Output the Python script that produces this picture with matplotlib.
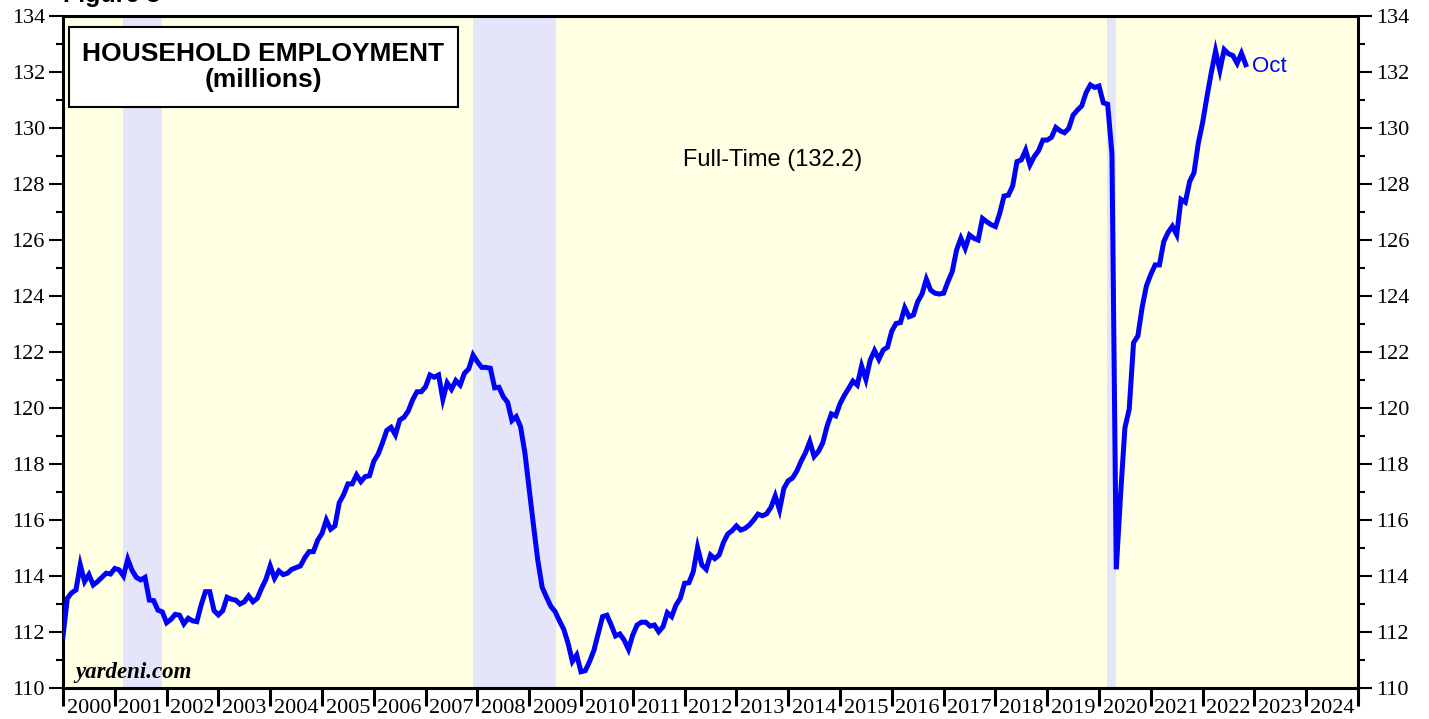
import numpy as np
import matplotlib.pyplot as plt
from matplotlib.patches import Rectangle

# full-time household employment, millions, monthly from Dec 1999 to Oct 2022
fulltime = [
    111.85, 113.20, 113.40, 113.50, 114.40, 113.80, 114.05, 113.68, 113.80, 113.95, 114.10, 114.07,
    114.27, 114.22, 114.00, 114.60, 114.20, 113.95, 113.86, 113.95, 113.14, 113.12, 112.78, 112.72,
    112.33, 112.45, 112.63, 112.60, 112.29, 112.49, 112.40, 112.37, 112.96, 113.44, 113.44, 112.76,
    112.61, 112.76, 113.24, 113.17, 113.14, 113.00, 113.08, 113.29, 113.08, 113.20, 113.56, 113.88,
    114.36, 113.92, 114.18, 114.05, 114.10, 114.24, 114.30, 114.36, 114.65, 114.87, 114.87, 115.28,
    115.52, 116.00, 115.67, 115.79, 116.62, 116.90, 117.29, 117.29, 117.61, 117.37, 117.55, 117.58,
    118.10, 118.35, 118.75, 119.20, 119.31, 119.04, 119.57, 119.67, 119.90, 120.29, 120.58, 120.58,
    120.76, 121.18, 121.10, 121.18, 120.31, 120.90, 120.67, 120.98, 120.82, 121.24, 121.40, 121.89,
    121.65, 121.45, 121.45, 121.42, 120.72, 120.74, 120.40, 120.20, 119.55, 119.69, 119.33, 118.40,
    117.10, 115.80, 114.55, 113.60, 113.25, 112.92, 112.73, 112.40, 112.10, 111.60, 110.95, 111.18,
    110.58, 110.62, 110.95, 111.35, 111.95, 112.55, 112.60, 112.25, 111.86, 111.93, 111.71, 111.38,
    111.90, 112.25, 112.35, 112.35, 112.21, 112.25, 112.01, 112.19, 112.69, 112.55, 112.96, 113.20,
    113.74, 113.76, 114.15, 115.02, 114.39, 114.24, 114.75, 114.62, 114.75, 115.20, 115.50, 115.62,
    115.79, 115.64, 115.70, 115.82, 116.00, 116.21, 116.15, 116.22, 116.45, 116.86, 116.36, 117.13,
    117.40, 117.50, 117.75, 118.10, 118.40, 118.80, 118.27, 118.45, 118.75, 119.35, 119.79, 119.72,
    120.15, 120.45, 120.70, 120.96, 120.82, 121.50, 121.02, 121.71, 122.05, 121.74, 122.07, 122.17,
    122.75, 123.02, 123.05, 123.58, 123.26, 123.32, 123.80, 124.07, 124.60, 124.21, 124.10, 124.07,
    124.10, 124.51, 124.87, 125.64, 126.06, 125.70, 126.18, 126.06, 126.00, 126.77, 126.65, 126.55,
    126.48, 126.95, 127.57, 127.60, 127.93, 128.80, 128.86, 129.21, 128.68, 128.98, 129.19, 129.57,
    129.57, 129.67, 130.02, 129.90, 129.83, 129.99, 130.46, 130.64, 130.79, 131.26, 131.54, 131.45,
    131.50, 130.90, 130.85, 129.08, 114.24, 116.90, 119.29, 119.96, 122.33, 122.57, 123.60, 124.37,
    124.77, 125.11, 125.11, 125.94, 126.27, 126.49, 126.19, 127.45, 127.35, 128.09, 128.40, 129.45,
    130.19, 131.11, 131.97, 132.75, 132.06, 132.80, 132.65, 132.59, 132.31, 132.67, 132.26,
]
start_year = 2000.0      # Dec 1999 value is plotted at the 2000 boundary (month-end)
last_label = 'Oct'
series_label = 'Full-Time (132.2)'
recessions = [(2001.16, 2001.91), (2007.91, 2009.51), (2020.16, 2020.33)]
year_labels = list(range(2000, 2025))

t = start_year + np.arange(len(fulltime)) / 12.0

fig = plt.figure(figsize=(14.29, 7.19), dpi=100)
ax = fig.add_axes([63/1429, 1 - 688/719, (1358 - 63)/1429, (688 - 16)/719])
ax.set_facecolor('#ffffe4')

for a, b in recessions:
    ax.axvspan(a, b, color='#e4e4fa', lw=0, zorder=1)

ax.plot(t, fulltime, color='#0000ff', lw=3.6, solid_joinstyle='miter', zorder=3)

ax.set_xlim(2000, 2025)
ax.set_ylim(110, 134)

# y axis, both sides
ax.set_yticks(np.arange(110, 135, 2))
ax.set_yticks(np.arange(110, 135, 1), minor=True)
ax.tick_params(axis='y', which='major', direction='out', length=10, width=1.5,
               left=True, right=True, labelleft=True, labelright=True,
               labelsize=16, pad=3)
ax.tick_params(axis='y', which='minor', direction='out', length=5, width=1.5,
               left=True, right=True)
for lab in ax.get_yticklabels():
    lab.set_fontfamily('Liberation Serif')

# x axis: long ticks at year boundaries, labels centred in the year
ax.set_xticks(np.arange(2000, 2026, 1))
ax.set_xticklabels([])
ax.set_xticks(np.arange(2000.5, 2025, 1), minor=True)
ax.set_xticklabels([str(y) for y in year_labels], minor=True,
                   fontfamily='Liberation Serif', fontsize=16)
ax.tick_params(axis='x', which='major', direction='out', length=13, width=2.2)
ax.tick_params(axis='x', which='minor', length=0, pad=8)

for s in ax.spines.values():
    s.set_linewidth(2.2)

# title box
ax.add_patch(Rectangle(((69 - 63)/1295, 1 - (107 - 16)/672), (458 - 69)/1295, (107 - 27)/672,
                       transform=ax.transAxes, facecolor='white', edgecolor='black',
                       lw=1.5, zorder=5))
ax.text((263.5 - 63)/1295, 1 - (54 - 16)/672, 'HOUSEHOLD EMPLOYMENT', transform=ax.transAxes,
        ha='center', va='center', fontsize=19, fontweight='bold',
        fontfamily='Liberation Sans', zorder=6)
ax.text((263.5 - 63)/1295, 1 - (80 - 16)/672, '(millions)', transform=ax.transAxes,
        ha='center', va='center', fontsize=19, fontweight='bold',
        fontfamily='Liberation Sans', zorder=6)

ax.text(2013.7, 128.86, series_label, ha='center', va='center', fontsize=17,
        fontfamily='Liberation Sans', zorder=6)
ax.text(t[-1] + 0.12, 132.21, last_label, color='#0000ff', ha='left', va='center',
        fontsize=16, fontfamily='Liberation Sans', zorder=6)
ax.text(2000.23, 110.54, 'yardeni.com', ha='left', va='center', fontsize=16.5,
        fontweight='bold', fontstyle='italic', fontfamily='Liberation Serif', zorder=6)

fig.text(63/1429, 1 - 2/719, 'Figure 3', ha='left', va='baseline', fontsize=18,
         fontweight='bold', fontfamily='Liberation Sans')

fig.savefig('out.png', dpi=100)
